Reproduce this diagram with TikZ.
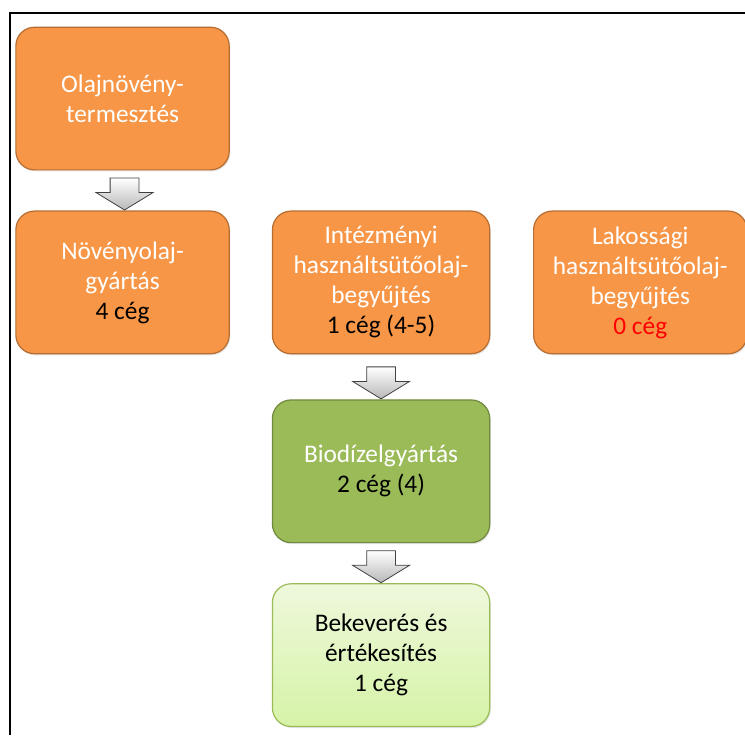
\documentclass[tikz,border=0pt]{standalone}
\usepackage{fontspec}
\setmainfont{Carlito}
\usetikzlibrary{arrows.meta,positioning,shapes.arrows,shadows}

\definecolor{narancs}{HTML}{F79646}
\definecolor{narancskeret}{HTML}{B66D31}
\definecolor{zold}{HTML}{9BBB59}
\definecolor{zoldkeret}{HTML}{71893F}
\definecolor{halvanyfel}{HTML}{EEF8DC}
\definecolor{halvanyle}{HTML}{D6F3A6}
\definecolor{halvanykeret}{HTML}{9BBB59}

\begin{document}
\begin{tikzpicture}[
  stage/.style={draw, line width=0.9pt, rounded corners=14pt, minimum width=160pt, minimum height=107pt, align=center, font=\fontsize{19}{22.5}\selectfont, drop shadow={opacity=0.2, shadow xshift=0.8pt, shadow yshift=-1.2pt}},
  orangestage/.style={stage, fill=narancs, draw=narancskeret, text=white},
  blockarr/.style={single arrow, shape border rotate=270, draw=black!75, line width=0.6pt, top color=white, bottom color=black!28, minimum height=24pt, single arrow head extend=10.5pt, single arrow tip angle=117, inner xsep=10.5pt, inner ysep=0pt, anchor=tip}
]
\useasboundingbox (0,0) rectangle (558.75pt,-551.25pt);
\draw[line width=1.6pt] (7.5pt,-551.25pt) |- (558.75pt,-9.75pt);

\node[orangestage] (olaj) at (91.9pt,-73.9pt) {Olajnövény-\\termesztés};
\node[orangestage, below=30pt of olaj] (noveny) {Növényolaj-\\gyártás\\\textcolor{black}{4 cég}};
\node[orangestage, minimum width=163pt, right=31.5pt of noveny] (intez) {Intézményi\\használtsütőolaj-\\begyűjtés\\\textcolor{black}{1 cég (4-5)}};
\node[orangestage, right=32pt of intez] (lakos) {Lakossági\\használtsütőolaj-\\begyűjtés\\\textcolor{red}{0 cég}};
\node[stage, fill=zold, draw=zoldkeret, text=white, minimum width=163pt, below=33.75pt of intez] (biodiz) {Biodízelgyártás\\\textcolor{black}{2 cég (4)}};
\node[stage, top color=halvanyfel, bottom color=halvanyle, draw=halvanykeret, text=black, minimum width=163pt, below=30pt of biodiz] (bekev) {Bekeverés és\\értékesítés\\1 cég};

\node[blockarr] (nyil1) at ([xshift=1.5pt]noveny.north) {};
\node[blockarr] (nyil2) at (biodiz.north) {};
\node[blockarr] (nyil3) at (bekev.north) {};
\end{tikzpicture}
\end{document}
